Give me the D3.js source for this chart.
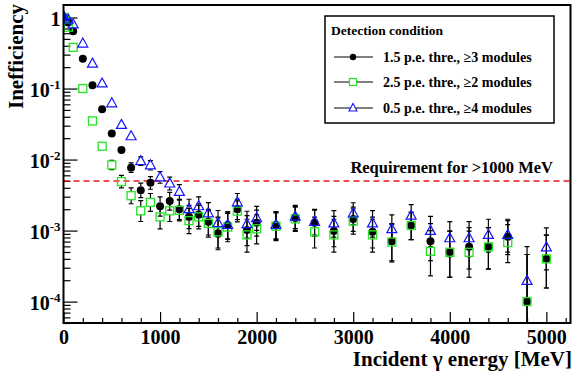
<!DOCTYPE html>
<html>
<head>
<meta charset="utf-8">
<script src="https://cdn.jsdelivr.net/npm/d3@7"></script>
<style>
  body { margin: 0; background: #fff; }
  text { font-family: "Liberation Serif", "Times New Roman", serif; font-weight: bold; fill: #000; }
</style>
</head>
<body>
<div id="chart"></div>
<script>
// Incident energies [MeV]
var energies = [10, 50, 100, 200, 300, 400, 500, 600, 700, 800, 900, 1000,
  1100, 1200, 1300, 1400, 1500, 1600, 1700, 1800, 1900, 2000,
  2200, 2400, 2600, 2800, 3000, 3200, 3400, 3600, 3800, 4000, 4200, 4400, 4600, 4800, 5000];

// 1.5 p.e. thre., >=3 modules
var ineffCircle = [1.0, 0.85, 0.64, 0.263, 0.111, 0.051, 0.0233, 0.0136, 0.0077, 0.0037, 0.0047, 0.0022,
  0.0026, 0.0020, 0.00157, 0.00167, 0.00133, 0.00092, 0.0012, 0.0020, 0.00102, 0.00129,
  0.0012, 0.0015, 0.00129, 0.00099, 0.00146, 0.00096, 0.00071, 0.00118, 0.00071, 0.000495, 0.00059, 0.00059, 0.00082, 0.0001, 0.0004];

// 2.5 p.e. thre., >=2 modules
var ineffSquare = [1.0, 0.73, 0.38, 0.10, 0.035, 0.0154, 0.0084, 0.0049, 0.0031, 0.0019, 0.0025, 0.00156,
  0.0019, 0.00193, 0.00138, 0.00156, 0.00126, 0.00096, 0.00112, 0.00188, 0.00087, 0.00106,
  0.00115, 0.00146, 0.00096, 0.00087, 0.00136, 0.00087, 0.00069, 0.00118, 0.00051, 0.000495, 0.000495, 0.00059, 0.00068, 0.0001, 0.0004];

// 0.5 p.e. thre., >=4 modules
var ineffTriangle = [1.0, 0.93, 0.80, 0.43, 0.224, 0.118, 0.062, 0.0308, 0.0213, 0.0095, 0.0083, 0.0056,
  0.0046, 0.0035, 0.0020, 0.0022, 0.00175, 0.00127, 0.0012, 0.0025, 0.00123, 0.0015,
  0.0012, 0.00157, 0.00133, 0.00126, 0.00174, 0.00126, 0.00105, 0.00162, 0.00099, 0.00078, 0.00078, 0.00087, 0.00087, 0.000196, 0.00058];

var legendLabels = ["1.5 p.e. thre., \u22653 modules", "2.5 p.e. thre., \u22652 modules", "0.5 p.e. thre., \u22654 modules"];
var requirement = 5e-3;
// simulated events per energy point, used for the Poisson error bars
var nEvents = 6000;

var svgWidth = 574, svgHeight = 374;
var frame = { left: 63.5, right: 570.5, top: 5, bottom: 323 };

var svg = d3.select("#chart").append("svg")
  .attr("width", svgWidth)
  .attr("height", svgHeight);

svg.append("rect").attr("width", svgWidth).attr("height", svgHeight).attr("fill", "#fff");

var x = d3.scaleLinear().domain([0, 5250]).range([frame.left, frame.right]);
var y = d3.scaleLog().domain([5e-5, 1.5]).range([frame.bottom, frame.top]);

svg.append("clipPath").attr("id", "clip")
  .append("rect")
  .attr("x", frame.left).attr("y", frame.top)
  .attr("width", frame.right - frame.left).attr("height", frame.bottom - frame.top);

// x axis, ticks pointing up into the frame
var xMinor = d3.range(0, 5201, 200).filter(d => d % 1000 != 0);
svg.append("g")
  .attr("transform", `translate(0,${frame.bottom})`)
  .call(d3.axisBottom(x).tickValues(xMinor).tickSize(-5).tickFormat(""))
  .call(g => g.select(".domain").remove());

svg.append("g")
  .attr("transform", `translate(0,${frame.bottom})`)
  .call(d3.axisBottom(x).tickValues([0, 1000, 2000, 3000, 4000, 5000]).tickSize(-11).tickPadding(5).tickFormat(d3.format("d")))
  .call(g => g.select(".domain").remove())
  .call(g => g.selectAll("text").attr("font-size", 20).attr("font-family", null).attr("dy", "0.8em"));

// y axis, log, ticks pointing right into the frame
var yMajor = [1e-4, 1e-3, 1e-2, 1e-1, 1];
var yMinor = [];
[1e-5, 1e-4, 1e-3, 1e-2, 1e-1].forEach(function(dec) {
  for (var m = 2; m <= 9; m++) {
    var v = m * dec;
    if (v >= 5e-5 && v <= 1.5) yMinor.push(v);
  }
});

svg.append("g")
  .attr("transform", `translate(${frame.left},0)`)
  .call(d3.axisLeft(y).tickValues(yMinor).tickSize(-7).tickFormat(""))
  .call(g => g.select(".domain").remove());

var yAxisG = svg.append("g")
  .attr("transform", `translate(${frame.left},0)`)
  .call(d3.axisLeft(y).tickValues(yMajor).tickSize(-14).tickFormat(""))
  .call(g => g.select(".domain").remove());

yAxisG.selectAll(".tick").each(function(d) {
  var t = d3.select(this).append("text")
    .attr("x", -3)
    .attr("y", 8)
    .attr("text-anchor", "end")
    .attr("font-size", 20)
    .attr("font-family", null);
  if (d === 1) {
    t.text("1");
  } else {
    var p = Math.round(Math.log10(d));
    t.append("tspan").text("10");
    t.append("tspan").attr("font-size", 13).attr("dy", -8).text(String(p));
  }
});

svg.selectAll(".tick line").attr("stroke", "#000").attr("stroke-width", 1.2);

// requirement line
svg.append("line")
  .attr("x1", frame.left).attr("x2", frame.right)
  .attr("y1", y(requirement)).attr("y2", y(requirement))
  .attr("stroke", "#e8161b").attr("stroke-width", 1.6)
  .attr("stroke-dasharray", "6,4");

svg.append("text")
  .attr("x", 553).attr("y", 173)
  .attr("text-anchor", "end")
  .attr("font-size", 16.5)
  .text("Requirement for >1000 MeV");

// error bars (Poisson on the number of missed events)
function errUp(v) { var k = v * nEvents; return (1 + Math.sqrt(k + 0.75)) / nEvents; }
function errDn(v) { var k = v * nEvents; return k > 0.25 ? Math.sqrt(k - 0.25) / nEvents : v; }

var plot = svg.append("g").attr("clip-path", "url(#clip)");

function drawErrors(values, gap) {
  var g = plot.append("g").attr("stroke", "#000").attr("stroke-width", 1.2);
  energies.forEach(function(e, i) {
    var v = values[i];
    var cx = x(e), cy = y(v);
    var lo = v - errDn(v);
    var yTop = y(v + errUp(v));
    var yBot = lo > 5e-5 ? y(lo) : frame.bottom + 5;
    if (cy - yTop > gap) {
      g.append("line").attr("x1", cx).attr("x2", cx).attr("y1", yTop).attr("y2", cy - gap);
      g.append("line").attr("x1", cx - 2.5).attr("x2", cx + 2.5).attr("y1", yTop).attr("y2", yTop);
    }
    if (yBot - cy > gap) {
      g.append("line").attr("x1", cx).attr("x2", cx).attr("y1", cy + gap).attr("y2", yBot);
      g.append("line").attr("x1", cx - 2.5).attr("x2", cx + 2.5).attr("y1", yBot).attr("y2", yBot);
    }
  });
}

drawErrors(ineffCircle, 4);
drawErrors(ineffSquare, 4);
drawErrors(ineffTriangle, 4);

// markers
var circleG = plot.append("g");
circleG.selectAll("circle")
  .data(energies)
  .enter()
  .append("circle")
  .attr("cx", (e) => x(e))
  .attr("cy", (e, i) => y(ineffCircle[i]))
  .attr("r", 4)
  .attr("fill", "#000");

var squareG = plot.append("g");
squareG.selectAll("rect")
  .data(energies)
  .enter()
  .append("rect")
  .attr("x", (e) => x(e) - 4)
  .attr("y", (e, i) => y(ineffSquare[i]) - 4)
  .attr("width", 8).attr("height", 8)
  .attr("fill", (e, i) => i == 0 ? "#00e000" : "none")
  .attr("stroke", "#22e522").attr("stroke-width", 1.3);

var triPath = "M0,-5.5L5,3.5L-5,3.5Z";
var triG = plot.append("g");
triG.selectAll("path")
  .data(energies)
  .enter()
  .append("path")
  .attr("d", triPath)
  .attr("transform", (e, i) => `translate(${x(e)},${y(ineffTriangle[i])})`)
  .attr("fill", (e, i) => i == 0 ? "#0000ff" : "none")
  .attr("stroke", "#1515ff").attr("stroke-width", 1.2);

// frame
svg.append("rect")
  .attr("x", frame.left).attr("y", frame.top)
  .attr("width", frame.right - frame.left).attr("height", frame.bottom - frame.top)
  .attr("fill", "none").attr("stroke", "#000").attr("stroke-width", 2);

// legend
var legend = svg.append("g");
legend.append("rect")
  .attr("x", 325).attr("y", 16).attr("width", 229).attr("height", 107)
  .attr("fill", "#fff").attr("stroke", "#000").attr("stroke-width", 1.5);
legend.append("text").attr("x", 331).attr("y", 35).attr("font-size", 13.5).text("Detection condition");

var rowY = [57, 82, 108];
legendLabels.forEach(function(lab, i) {
  var ly = rowY[i];
  legend.append("line").attr("x1", 334).attr("x2", 373).attr("y1", ly).attr("y2", ly)
    .attr("stroke", "#000").attr("stroke-width", 1.2);
  legend.append("text").attr("x", 383).attr("y", ly + 5).attr("font-size", 14).text(lab);
});
legend.append("circle").attr("cx", 353).attr("cy", rowY[0]).attr("r", 3.2).attr("fill", "#000");
legend.append("rect").attr("x", 349.5).attr("y", rowY[1] - 3.5).attr("width", 7).attr("height", 7)
  .attr("fill", "#fff").attr("stroke", "#22e522").attr("stroke-width", 1.2);
legend.append("path").attr("d", "M0,-4.5L4,3L-4,3Z").attr("transform", `translate(353,${rowY[2]})`)
  .attr("fill", "#fff").attr("stroke", "#1515ff").attr("stroke-width", 1.1);

// axis titles
svg.append("text")
  .attr("x", 572).attr("y", 366)
  .attr("text-anchor", "end")
  .attr("font-size", 21)
  .text("Incident \u03b3 energy [MeV]");

svg.append("text")
  .attr("transform", "translate(23,4) rotate(-90)")
  .attr("text-anchor", "end")
  .attr("font-size", 21)
  .text("Inefficiency");
</script>
</body>
</html>
